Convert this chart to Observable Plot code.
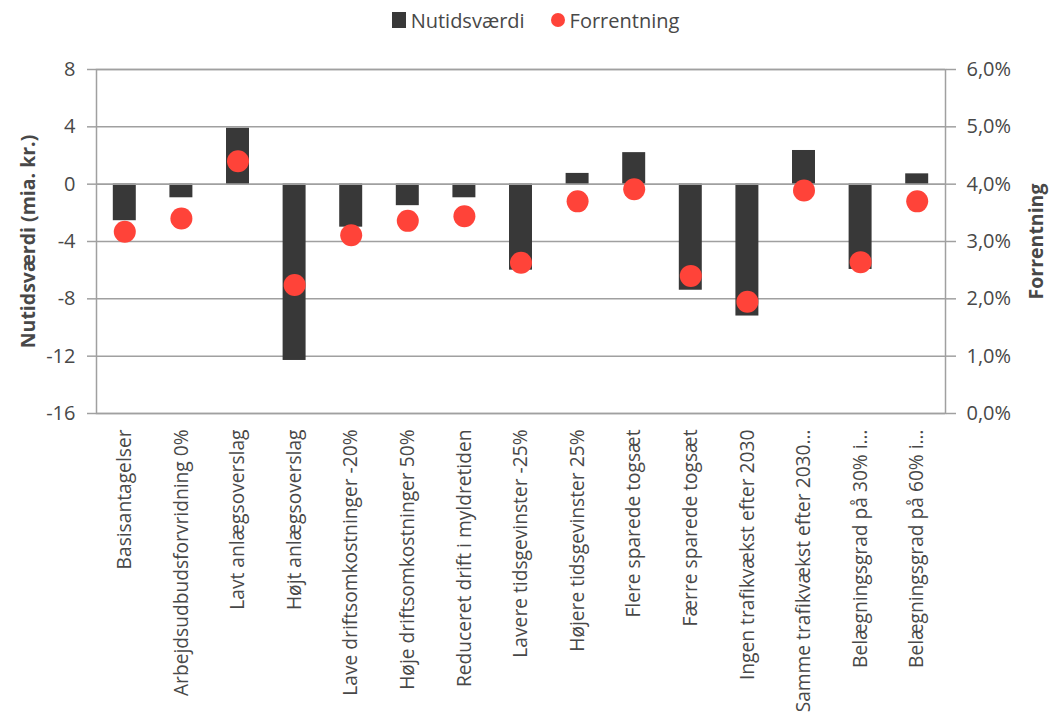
<!DOCTYPE html>
<html>
<head>
<meta charset="utf-8">
<script src="https://cdn.jsdelivr.net/npm/d3@7"></script>
<script src="https://cdn.jsdelivr.net/npm/@observablehq/plot@0.6"></script>
<style>
  body { margin: 0; background: #fff; font-family: "Open Sans", sans-serif; color: #484848; }
  #legend { height: 40px; display: flex; justify-content: center; align-items: center; gap: 26px; font-size: 20px; padding-left: 20px; box-sizing: border-box; }
  .item { display: flex; align-items: center; gap: 5px; }
  .sq { width: 14px; height: 16px; background: #383838; }
  .dot { width: 14px; height: 14px; border-radius: 50%; background: #ff4339; }
</style>
</head>
<body>
<div id="legend">
  <div class="item"><span class="sq"></span><span>Nutidsværdi</span></div>
  <div class="item"><span class="dot"></span><span>Forrentning</span></div>
</div>
<div id="chart"></div>
<script>
const categories = [
  "Basisantagelser",
  "Arbejdsudbudsforvridning 0%",
  "Lavt anlægsoverslag",
  "Højt anlægsoverslag",
  "Lave driftsomkostninger -20%",
  "Høje driftsomkostninger 50%",
  "Reduceret drift i myldretiden",
  "Lavere tidsgevinster -25%",
  "Højere tidsgevinster 25%",
  "Flere sparede togsæt",
  "Færre sparede togsæt",
  "Ingen trafikvækst efter 2030",
  "Samme trafikvækst efter 2030…",
  "Belægningsgrad på 30% i…",
  "Belægningsgrad på 60% i…"
];
// Nutidsværdi (mia. kr.)
const nutidsvaerdi = [-2.55, -0.95, 3.9, -12.3, -3.0, -1.5, -0.95, -6.0, 0.75, 2.2, -7.4, -9.2, 2.35, -5.95, 0.72];
// Forrentning (%)
const forrentning = [3.17, 3.40, 4.40, 2.24, 3.11, 3.36, 3.44, 2.63, 3.70, 3.91, 2.40, 1.95, 3.89, 2.64, 3.70];

const leftTicks = [-16, -12, -8, -4, 0, 4, 8];
const rightTicks = [0, 1, 2, 3, 4, 5, 6]; // percent
const leftDomain = [-16, 8];
const rightDomain = [0, 6];

// map right-axis percentage onto the left scale
const pctToLeft = p => leftDomain[0] + (p - rightDomain[0]) * (leftDomain[1] - leftDomain[0]) / (rightDomain[1] - rightDomain[0]);
const leftToPct = v => rightDomain[0] + (v - leftDomain[0]) * (rightDomain[1] - rightDomain[0]) / (leftDomain[1] - leftDomain[0]);

const data = categories.map((c, i) => ({ cat: c, npv: nutidsvaerdi[i], pct: forrentning[i] }));

const grey = "#a0a0a0";
const textCol = "#484848";

const chart = Plot.plot({
  width: 1051,
  height: 678,
  marginTop: 29,
  marginBottom: 305,
  marginLeft: 96,
  marginRight: 106,
  style: { fontFamily: "Open Sans", fontSize: "20px", color: textCol, background: "#fff" },
  x: { domain: categories, paddingInner: 0.594, paddingOuter: 0.297, round: false, label: null },
  y: { domain: leftDomain, label: null },
  marks: [
    Plot.gridY(leftTicks, { stroke: grey, strokeOpacity: 1, strokeWidth: 1.5 }),
    Plot.barY(data, { x: "cat", y: "npv", fill: "#383838" }),
    Plot.ruleY([0], { stroke: grey, strokeWidth: 1.5 }),
    Plot.dot(data, { x: "cat", y: d => pctToLeft(d.pct), r: 11, fill: "#ff4339", stroke: "none" }),
    Plot.frame({ stroke: grey, strokeWidth: 1.5 }),
    Plot.axisY(leftTicks, { anchor: "left", tickSize: 9, tickPadding: 12, stroke: grey, strokeWidth: 1.5, fill: textCol, fontSize: 20, label: null,
      tickFormat: v => String(v) }),
    Plot.axisY(rightTicks.map(pctToLeft), { anchor: "right", tickSize: 10, tickPadding: 11, stroke: grey, strokeWidth: 1.5, fill: textCol, fontSize: 20, label: null,
      tickFormat: v => leftToPct(v).toFixed(1).replace(".", ",") + "%" }),
    Plot.axisX({ anchor: "bottom", tickRotate: -90, tickSize: 0, tickPadding: 16, fill: textCol, fontSize: 19.2, label: null }),
    Plot.text(["Nutidsværdi (mia. kr.)"], { frameAnchor: "left", textAnchor: "middle", rotate: -90, dx: -68, fontWeight: "bold", fontSize: 19.5, fill: textCol }),
    Plot.text(["Forrentning"], { frameAnchor: "right", textAnchor: "middle", rotate: -90, dx: 91, fontWeight: "bold", fontSize: 19.5, fill: textCol })
  ]
});
document.getElementById("chart").appendChild(chart);
</script>
</body>
</html>
